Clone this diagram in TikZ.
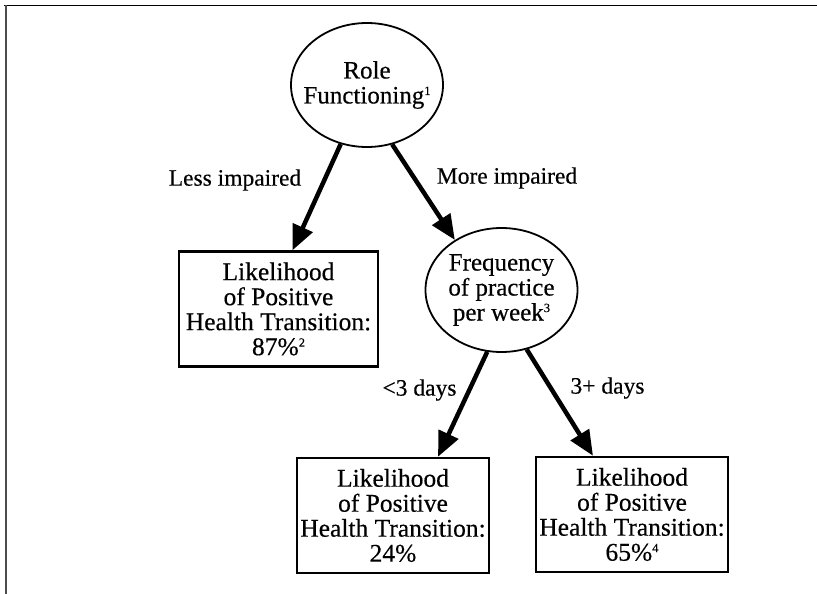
\documentclass[tikz,border=0pt]{standalone}
\usepackage{fontspec}
\setmainfont{Liberation Serif}[FakeBold=0.4]
\usepackage{tikz}
\usetikzlibrary{shapes.geometric}
\usetikzlibrary{arrows.meta,positioning}
\newcommand{\fnmark}[1]{\raisebox{8.5pt}{\fontsize{12.5}{12}\selectfont #1}}

\begin{document}
\begin{tikzpicture}[x=1pt, y=-1pt,
    split/.style={ellipse, draw, line width=1.8pt, inner xsep=-14pt, inner ysep=0pt, minimum width=152pt, minimum height=124pt, align=center, font=\fontsize{25}{25}\selectfont},
    outcome/.style={rectangle, draw, line width=2.4pt, inner sep=0pt, minimum height=115pt, align=center, font=\fontsize{25.5}{25}\selectfont},
    branch/.style={line width=4.5pt, -{Triangle[length=25pt,width=21pt]}},
    choice/.style={font=\fontsize{23.5}{25}\selectfont}]
            \useasboundingbox (0,0) rectangle (817,594);
            \draw[line width=1.6pt] (4,5.5) -- (817,5.5);
            \draw[line width=1.2pt, black!70] (6,5.5) -- (6,594);

            \node[split] (role) at (367,85) {Role\\Functioning\fnmark{1}};
            \node[split] (freq) at (501.5,290) {Frequency\\of practice\\per week\fnmark{3}};

            \foreach \n/ \x/ \y/ \w/ \p in {less/278.5/309/199/87\%\fnmark{2}, few/393/515.5/192/24\%, many/632/514.5/192/65\%\fnmark{4}}{
                \node[outcome, minimum width=\w pt] (\n) at (\x,\y) {Likelihood\\of Positive\\Health Transition:\\\p};
            }

            \draw[branch] (role.246) -- ([xshift=14pt]less.north);
            \draw[branch] (role.293) -- (freq.133);
            \draw[branch] (freq.257) -- ([xshift=45pt]few.north);
            \draw[branch] (freq.293) -- ([xshift=-39pt]many.north);

            \node[choice] (lessl) at (235,180) {Less impaired};
            \node[choice] (morel) at (507,178) {More impaired};
            \node[choice] (fewl) at (419.5,390) {<3 days};
            \node[choice] (manyl) at (607.5,388) {3+ days};
    \end{tikzpicture}
\end{document}
